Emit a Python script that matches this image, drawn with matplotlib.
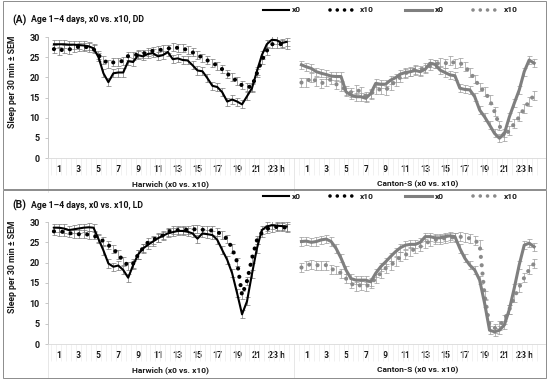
import matplotlib
matplotlib.use('Agg')
import matplotlib.pyplot as plt
from matplotlib.lines import Line2D
from matplotlib.patches import Rectangle
import numpy as np

plt.rcParams['font.family'] = ['Roboto', 'DejaVu Sans']

W, H = 550, 381

hour_labels = ['1', '3', '5', '7', '9', '11', '13', '15', '17', '19', '21', '23 h']
groups = ['Harwich (x0 vs. x10)', 'Canton-S (x0 vs. x10)']
legend_labels = ['x0', 'x10', 'x0', 'x10']

# sleep per 30 min, 48 half-hour bins, panel A (DD)
har_dd_x0 = [28.2, 28.2, 28.2, 28.1, 28.1, 28.0, 27.9, 27.7, 27.2, 25.0,
             21.0, 18.8, 21.0, 21.2, 21.2, 24.0, 23.8, 25.5, 25.2, 25.8,
             26.0, 25.2, 25.5, 26.3, 24.5, 24.7, 24.3, 24.2, 23.0, 21.7,
             21.5, 19.8, 17.9, 17.6, 16.3, 14.0, 14.5, 14.0, 13.3, 15.3,
             17.3, 21.5, 25.5, 28.2, 29.3, 29.2, 28.5, 28.8]
har_dd_x10 = [27.0, 26.5, 27.0, 26.9, 27.2, 27.6, 27.6, 27.4, 27.0, 25.5,
              24.3, 23.4, 23.7, 23.8, 24.1, 25.3, 25.4, 25.7, 25.9, 26.2,
              26.6, 26.7, 26.9, 27.1, 27.5, 27.3, 27.2, 26.7, 26.2, 25.5,
              24.9, 24.2, 23.6, 22.9, 22.0, 20.9, 20.0, 19.0, 18.0, 17.6,
              17.7, 21.0, 24.2, 26.6, 28.2, 28.3, 28.2, 28.0]
can_dd_x0 = [23.1, 22.6, 22.2, 21.4, 21.0, 20.7, 20.3, 20.2, 20.2, 16.4,
             15.6, 15.2, 15.2, 14.8, 16.0, 18.5, 18.3, 18.3, 19.3, 19.9,
             20.8, 21.2, 21.4, 21.7, 21.4, 22.0, 23.5, 23.2, 21.8, 21.2,
             20.6, 20.4, 17.3, 17.0, 16.9, 15.2, 11.9, 10.2, 8.2, 6.1,
             4.9, 6.1, 10.2, 13.6, 16.9, 21.4, 24.3, 23.5]
can_dd_x10 = [18.7, 18.7, 20.0, 19.0, 18.5, 19.0, 19.5, 18.3, 17.8, 16.8,
              16.3, 16.9, 16.5, 15.3, 15.8, 17.0, 17.0, 16.8, 18.0, 19.0,
              20.0, 21.0, 21.5, 22.0, 21.8, 22.5, 22.8, 23.3, 23.6, 23.4,
              24.1, 23.5, 23.6, 22.7, 21.3, 19.6, 17.6, 16.5, 14.5, 11.5,
              8.0, 5.3, 6.9, 8.5, 10.2, 12.3, 14.0, 15.6]

# panel B (LD)
har_ld_x0 = [28.6, 28.6, 28.4, 28.0, 28.2, 28.4, 28.6, 28.7, 28.6, 25.8,
             23.0, 19.8, 19.0, 19.3, 18.2, 16.3, 19.4, 22.0, 23.5, 24.4,
             25.2, 26.0, 26.6, 27.2, 27.5, 27.8, 27.8, 27.6, 27.2, 25.9,
             27.2, 27.0, 26.8, 25.6, 23.1, 20.7, 17.4, 12.5, 7.3, 10.5,
             17.2, 23.5, 28.0, 28.9, 29.2, 29.1, 29.0, 28.9]
har_ld_x10 = [27.7, 27.6, 27.6, 27.3, 27.1, 27.0, 27.0, 26.9, 26.7, 26.0,
              25.3, 24.3, 23.4, 22.0, 20.5, 19.2, 19.8, 22.0, 23.6, 25.0,
              25.6, 26.2, 26.7, 27.6, 28.0, 28.0, 28.1, 28.1, 28.2, 28.2,
              28.1, 28.0, 27.9, 27.6, 26.8, 25.8, 23.5, 20.2, 12.0, 15.5,
              21.0, 25.5, 27.4, 28.3, 28.6, 28.8, 28.7, 28.6]
can_ld_x0 = [25.2, 25.3, 25.0, 25.2, 25.6, 25.8, 25.2, 23.5, 21.1, 18.2,
             16.1, 15.7, 15.7, 15.7, 15.3, 17.4, 19.0, 20.2, 21.5, 22.7,
             23.7, 24.3, 24.5, 24.5, 25.0, 26.4, 26.4, 26.1, 26.1, 26.4,
             26.6, 26.4, 23.5, 21.1, 19.4, 18.2, 15.7, 10.0, 3.4, 3.0,
             3.4, 4.7, 8.5, 13.8, 19.5, 24.3, 24.8, 23.9]
can_ld_x10 = [18.8, 19.4, 19.6, 19.4, 19.3, 19.4, 18.4, 18.2, 17.4, 16.1,
              14.9, 14.1, 14.5, 14.1, 14.9, 16.1, 17.4, 18.6, 19.4, 20.2,
              21.5, 21.9, 22.7, 23.5, 23.9, 24.8, 25.2, 25.6, 25.8, 26.0,
              26.1, 26.3, 26.4, 26.1, 26.0, 25.5, 24.5, 12.0, 4.5, 3.9,
              4.5, 6.0, 8.5, 11.5, 14.0, 16.3, 18.3, 19.8]

# SEM (roughly constant per series)
sem_har_x0 = 1.0
sem_har_x10 = 1.0
sem_can_x0 = 1.0
sem_can_x10 = 1.1

BLACK = '#000000'
GRAY = '#7f7f7f'
GRAY_DOT = '#8a8a8a'
DOTS = (0, (0.01, 2.0))


def fx(x):
    return x / W


def fy(y):
    return 1 - y / H


def draw_panel(fig, rect, frame, tag, title, title_y, legend_y, ylab_y, group_y, data):
    fig.add_artist(Rectangle((fx(3), fy(frame[1])), fx(543), (frame[1] - frame[0]) / H,
                             transform=fig.transFigure, fill=False,
                             edgecolor='#8c8c8c', lw=0.7))
    ax = fig.add_axes(rect)
    har_x = np.arange(48)
    can_x = np.arange(48) + 50
    h0, h10, c0, c10 = data

    ax.errorbar(har_x, h0, yerr=sem_har_x0, fmt='none', ecolor='#777777',
                elinewidth=0.5, capsize=1.8, capthick=0.5, zorder=1)
    ax.errorbar(har_x, h10, yerr=sem_har_x10, fmt='none', ecolor='#777777',
                elinewidth=0.5, capsize=1.8, capthick=0.5, zorder=1)
    ax.errorbar(can_x, c0, yerr=sem_can_x0, fmt='none', ecolor='#9a9a9a',
                elinewidth=0.5, capsize=1.8, capthick=0.5, zorder=1)
    ax.errorbar(can_x, c10, yerr=sem_can_x10, fmt='none', ecolor='#9a9a9a',
                elinewidth=0.5, capsize=1.8, capthick=0.5, zorder=1)

    ax.plot(har_x, h10, color=BLACK, lw=3.0, ls=DOTS, dash_capstyle='round', zorder=3)
    ax.plot(har_x, h0, color=BLACK, lw=1.5, zorder=4)
    ax.plot(can_x, c10, color=GRAY_DOT, lw=3.0, ls=DOTS, dash_capstyle='round', zorder=3)
    ax.plot(can_x, c0, color=GRAY, lw=2.2, zorder=4)

    ax.set_xlim(-1.2, 99.2)
    ax.set_ylim(0, 30)
    ax.set_yticks(np.arange(0, 31, 5))
    ax.tick_params(axis='y', length=2.5, width=0.6, color='#bfbfbf', pad=3.5,
                   labelsize=6.5, labelcolor='#1a1a1a')
    for t in ax.get_yticklabels():
        t.set_fontweight('bold')

    ticks = list(range(1, 48, 4)) + list(range(51, 98, 4))
    ax.set_xticks(ticks)
    ax.set_xticklabels(hour_labels * 2, fontsize=6.3, fontweight='bold', color='#1a1a1a')
    ax.tick_params(axis='x', length=0, pad=5)
    bounds = list(np.arange(-0.5, 48, 1)) + list(np.arange(49.5, 98, 1))
    ax.set_xticks(bounds, minor=True)
    ax.tick_params(axis='x', which='minor', length=12, width=0.5, color='#ececec')

    for s in ['top', 'right']:
        ax.spines[s].set_visible(False)
    ax.spines['left'].set_color('#bfbfbf')
    ax.spines['left'].set_linewidth(0.6)
    ax.spines['bottom'].set_color('#d9d9d9')
    ax.spines['bottom'].set_linewidth(0.6)
    for xb in [-1.2, 48.5]:
        ax.axvline(xb, ymin=-0.28, ymax=0, clip_on=False, color='#e3e3e3', lw=0.6)

    # group labels under the hour labels
    for gx, g in zip([23.5, 73.5], groups):
        fig.text(fx(54 + gx * 4.95), fy(group_y), g, ha='center', va='center',
                 fontsize=6, fontweight='bold', color='#1a1a1a')

    fig.text(fx(12), fy(title_y), tag, ha='left', va='center', fontsize=7.5,
             fontweight='bold', color='#111111')
    fig.text(fx(31), fy(title_y), title, ha='left', va='center', fontsize=6.3,
             fontweight='bold', color='#111111')
    fig.text(fx(13), fy(ylab_y), 'Sleep per 30 min \u00b1 SEM', rotation=90,
             ha='center', va='center', fontsize=6.3, fontweight='bold', color='#1a1a1a')

    # legend
    styles = [dict(color=BLACK, lw=1.5),
              dict(color=BLACK, lw=2.6, ls=DOTS, dash_capstyle='round'),
              dict(color=GRAY, lw=2.2),
              dict(color=GRAY_DOT, lw=2.6, ls=DOTS, dash_capstyle='round')]
    spans = [(263, 289), (330, 357), (405, 432), (473, 501)]
    for (x0, x1), st, lab in zip(spans, styles, legend_labels):
        fig.add_artist(Line2D([fx(x0), fx(x1)], [fy(legend_y)] * 2,
                              transform=fig.transFigure, **st))
        fig.text(fx(x1 + 3), fy(legend_y), lab, ha='left', va='center',
                 fontsize=6, fontweight='bold', color='#1a1a1a')
    return ax


fig = plt.figure(figsize=(5.5, 3.81), dpi=100)

draw_panel(fig, [fx(48), fy(158), 497 / W, 121 / H], (1, 189), '(A)',
           'Age 1\u20134 days, x0 vs. x10, DD', 20, 10, 82, 184,
           (har_dd_x0, har_dd_x10, can_dd_x0, can_dd_x10))
draw_panel(fig, [fx(48), fy(344), 497 / W, 122 / H], (190, 378), '(B)',
           'Age 1\u20134 days, x0 vs. x10, LD', 205, 196, 267, 370,
           (har_ld_x0, har_ld_x10, can_ld_x0, can_ld_x10))

fig.savefig('out.png', dpi=100)
